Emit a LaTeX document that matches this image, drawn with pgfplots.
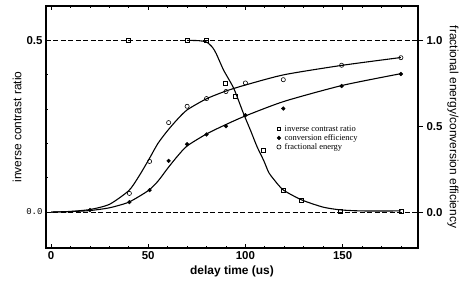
\documentclass[border=0pt]{standalone}
\usepackage{pgfplots}
\pgfplotsset{compat=1.18}
\usepackage{fontspec}
\setmainfont{Liberation Sans}
\setmonofont{Liberation Mono}
\newfontfamily\legfont{Liberation Serif}

\begin{document}
\begin{tikzpicture}
\path[use as bounding box] (-46bp,-34bp) rectangle (423bp,248bp);
\pgfplotsset{
  every axis/.append style={
    scale only axis, width=372bp, height=242bp,
    at={(0,0)}, anchor=south west,
    xmin=-2.6, xmax=188.8,
    /pgf/number format/assume math mode=true,
    tick label style={font=\fontsize{11.5}{12}\selectfont\bfseries},
    label style={font=\fontsize{12}{13}\selectfont},
    axis line style={line width=1.1pt},
    every tick/.style={black, line width=0.8pt},
  },
}
% left axis: inverse contrast ratio
\begin{axis}[
  ymin=-0.105, ymax=0.6,
  xtick={0,50,100,150},
  minor xtick={10,20,30,40,60,70,80,90,110,120,130,140,160,170,180},
  xtick pos=both,
  ytick={0,0.5}, minor ytick={0.1,0.2,0.3,0.4},
  ytick pos=left,
  yticklabels={{\mdseries\ttfamily\fontsize{9}{9}\selectfont 0.0},{0.5}},
  tick align=inside,
  major tick length=4bp, minor tick length=2bp,
  xlabel={\bfseries delay time (us)},
  ylabel={inverse contrast ratio},
  xlabel style={yshift=1bp},
  ylabel style={yshift=-2bp},
]
% reference levels
\addplot[black, line width=0.7pt, dash pattern=on 5pt off 2.5pt] coordinates {(-2.6,0.5) (188.8,0.5)};
\addplot[black, line width=0.7pt, dash pattern=on 5pt off 2.5pt] coordinates {(-2.6,0) (188.8,0)};
% fitted curve
\addplot[black, line width=1.1pt, smooth, tension=0.4] coordinates {
  (70,0.5) (76,0.499) (80,0.495) (83,0.48) (85,0.461) (88.8,0.413) (94,0.36)
  (99,0.287) (102.6,0.238) (106,0.19) (109.4,0.15) (112,0.115) (114.6,0.095)
  (119.5,0.064) (129,0.035) (140,0.014) (149,0.006) (160,0.003) (180,0.003)};
% measured points
\addplot[only marks, mark=square, mark size=2bp, mark options={line width=0.6pt, fill=white}] coordinates {
  (40,0.5) (70,0.5) (80,0.5) (89.5,0.376) (94.7,0.338) (109.4,0.18)
  (119.5,0.064) (129,0.035) (149,0.003) (180,0.003)};
\end{axis}

% right axis: fractional energy / conversion efficiency
\begin{axis}[
  ymin=-0.209, ymax=1.2,
  axis y line*=right, axis x line=none,
  ytick={0,0.5,1},
  yticklabel style={/pgf/number format/fixed, /pgf/number format/fixed zerofill, /pgf/number format/precision=1},
  tick align=outside, major tick length=5bp,
  ylabel={fractional energy/conversion efficiency},
  ylabel style={rotate=180, yshift=-2bp},
  legend style={at={(0.62,0.512)}, anchor=north west, draw=none, fill=none,
    font=\legfont\fontsize{8.5}{8.5}\selectfont, row sep=-0.8pt, inner sep=0pt,
    nodes={inner sep=1.2pt},
    /tikz/every odd column/.append style={column sep=2.5pt}},
  legend cell align=left,
]
\addlegendimage{only marks, mark=square, mark size=1.7bp, mark options={line width=0.6pt}}
\addlegendentry{inverse contrast ratio}
% fitted curves
\addplot[black, line width=1.1pt, smooth, tension=0.4, forget plot] coordinates {
  (0,0) (10,0.004) (20,0.015) (30,0.045) (40,0.125) (45,0.205) (50,0.3) (55,0.4)
  (60,0.475) (65,0.54) (70,0.595) (80,0.66) (90,0.705) (100,0.74) (120,0.80)
  (150,0.855) (180,0.9)};
\addplot[black, line width=1.1pt, smooth, tension=0.4, forget plot] coordinates {
  (0,0) (10,0.003) (20,0.009) (30,0.025) (40,0.058) (50,0.125) (55,0.18) (60,0.255)
  (65,0.325) (70,0.385) (80,0.455) (90,0.51) (100,0.56) (120,0.645)
  (150,0.738) (180,0.806)};
% measured points
\addplot[only marks, mark=*, mark size=1.9bp] coordinates {
  (20,0.012) (40.3,0.058) (50.7,0.128) (60.5,0.298) (70,0.395) (80,0.452)
  (90,0.5) (100,0.564) (119.5,0.603) (149.5,0.734) (180,0.804)};
\addlegendentry{conversion efficiency}
\addplot[only marks, mark=o, mark size=2.1bp, mark options={line width=0.6pt, fill=white}] coordinates {
  (40.3,0.109) (50.7,0.295) (60.5,0.521) (70,0.616) (80,0.661) (90,0.702)
  (100,0.752) (119.5,0.771) (149.5,0.855) (180,0.899)};
\addlegendentry{fractional energy}
\end{axis}
\end{tikzpicture}
\end{document}
